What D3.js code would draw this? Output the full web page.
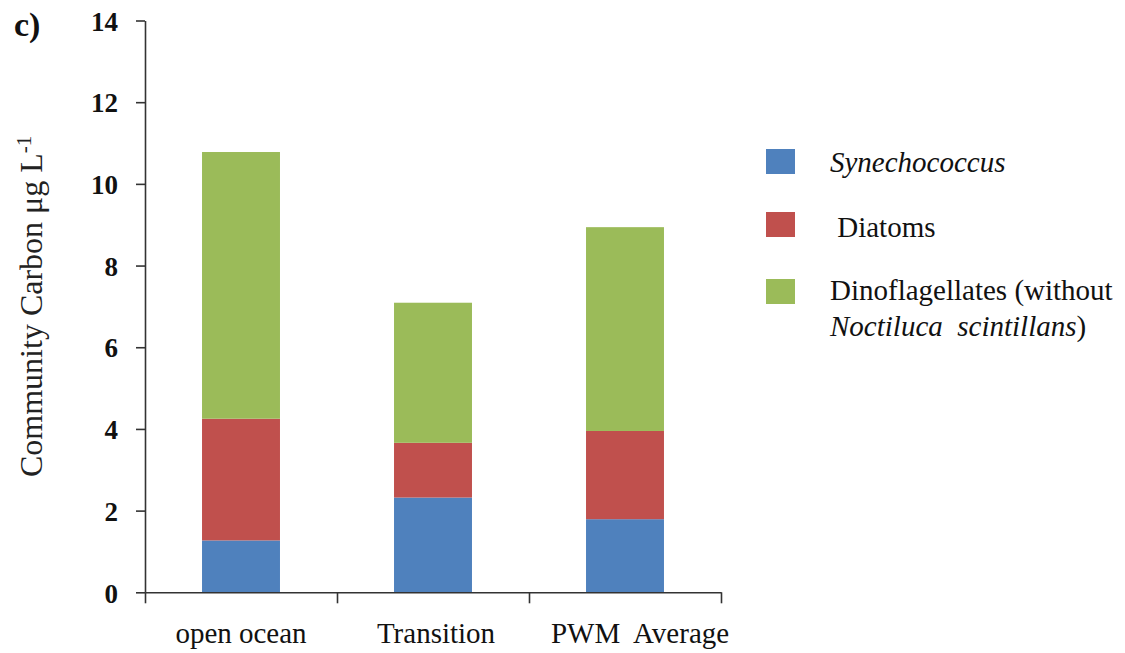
<!DOCTYPE html>
<html>
<head>
<meta charset="utf-8">
<script src="https://cdn.jsdelivr.net/npm/d3@7"></script>
<style>
  html, body { margin: 0; padding: 0; background: #ffffff; }
  text { white-space: pre; }
</style>
</head>
<body>
<svg id="chart" width="1125" height="653"></svg>
<script>
// Community carbon by water type, stacked by phytoplankton group
const categories = ["open ocean", "Transition", "PWM  Average"];
const synechococcus   = [1.27, 2.32, 1.79];
const diatoms         = [2.98, 1.34, 2.16];
const dinoflagellates = [6.53, 3.43, 4.99];
const yTicks = [0, 2, 4, 6, 8, 10, 12, 14];

const seriesKeys = ["Synechococcus", "Diatoms", "Dinoflagellates"];
const colors = { Synechococcus: "#4F81BD", Diatoms: "#C0504D", Dinoflagellates: "#9BBB59" };
const SERIF = "Liberation Serif";

const rows = categories.map((c, i) => ({
  category: c,
  Synechococcus: synechococcus[i],
  Diatoms: diatoms[i],
  Dinoflagellates: dinoflagellates[i]
}));

const svg = d3.select("#chart");
svg.append("rect").attr("width", 1125).attr("height", 653).attr("fill", "#fff");

const y = d3.scaleLinear().domain([0, 14]).range([592.3, 20.5]);
const x = d3.scaleBand().domain(categories).range([145, 721])
  .paddingInner(0.594).paddingOuter(0.297);

// stacked bars
const stacked = d3.stack().keys(seriesKeys)(rows);
svg.append("g").selectAll("g").data(stacked).join("g")
  .attr("fill", d => colors[d.key])
  .selectAll("rect").data(d => d).join("rect")
  .attr("x", d => x(d.data.category))
  .attr("width", x.bandwidth())
  .attr("y", d => y(d[1]))
  .attr("height", d => y(d[0]) - y(d[1]));

// y axis
const yAxis = svg.append("g").attr("transform", "translate(145,0)")
  .call(d3.axisLeft(y).tickValues(yTicks).tickSize(9).tickSizeOuter(0).tickPadding(18)
    .tickFormat(d3.format("d")));
yAxis.select(".domain").attr("stroke", "#333").attr("stroke-width", 1.6);
yAxis.selectAll(".tick line").attr("stroke", "#333").attr("stroke-width", 1.6);
yAxis.selectAll(".tick text")
  .attr("font-family", SERIF).attr("font-size", 27)
  .attr("font-weight", "bold").attr("fill", "#111").attr("dy", "0.36em");

// x axis: ticks mark the boundaries between categories
const xb = d3.scaleLinear().domain([0, categories.length]).range(x.range());
const xAxis = svg.append("g").attr("transform", `translate(0,${y(0)})`)
  .call(d3.axisBottom(xb).tickValues(d3.range(0, categories.length + 1))
    .tickSize(11).tickSizeOuter(0).tickFormat(""));
xAxis.select(".domain").attr("stroke", "#333").attr("stroke-width", 1.6);
xAxis.selectAll(".tick line").attr("stroke", "#333").attr("stroke-width", 1.6);

// category labels (the last one sits slightly right of its bar)
const labelShift = [0, 3, 15];
svg.append("g").selectAll("text").data(categories).join("text")
  .attr("x", (d, i) => x(d) + x.bandwidth() / 2 + labelShift[i])
  .attr("y", 643)
  .attr("text-anchor", "middle")
  .attr("font-family", SERIF)
  .attr("font-size", 29).attr("fill", "#111")
  .text(d => d);

// y axis title
const yTitle = svg.append("text")
  .attr("transform", "translate(42,477) rotate(-90)")
  .attr("font-family", SERIF)
  .attr("font-size", 32).attr("fill", "#222");
yTitle.append("tspan").text("Community Carbon μg L");
yTitle.append("tspan").attr("font-size", 21).attr("dy", -11).text("-1");

// panel letter
svg.append("text").attr("x", 14).attr("y", 36)
  .attr("font-family", SERIF)
  .attr("font-size", 34).attr("font-weight", "bold").attr("fill", "#111").text("c)");

// legend
const legend = svg.append("g");
const legendRows = [
  { key: "Synechococcus", y: 149 },
  { key: "Diatoms", y: 212 },
  { key: "Dinoflagellates", y: 279 }
];
legend.selectAll("rect").data(legendRows).join("rect")
  .attr("x", 766).attr("y", d => d.y).attr("width", 29).attr("height", 25)
  .attr("fill", d => colors[d.key]);

const lt = (xp, yp) => legend.append("text").attr("x", xp).attr("y", yp)
  .attr("font-family", SERIF)
  .attr("font-size", 29).attr("fill", "#111");
lt(830, 172).attr("font-style", "italic").text("Synechococcus");
lt(830, 237).text(" Diatoms");
lt(830, 300).text("Dinoflagellates (without");
const l4 = lt(830, 336);
l4.append("tspan").attr("font-style", "italic").text("Noctiluca  scintillans");
l4.append("tspan").text(")");
</script>
</body>
</html>
